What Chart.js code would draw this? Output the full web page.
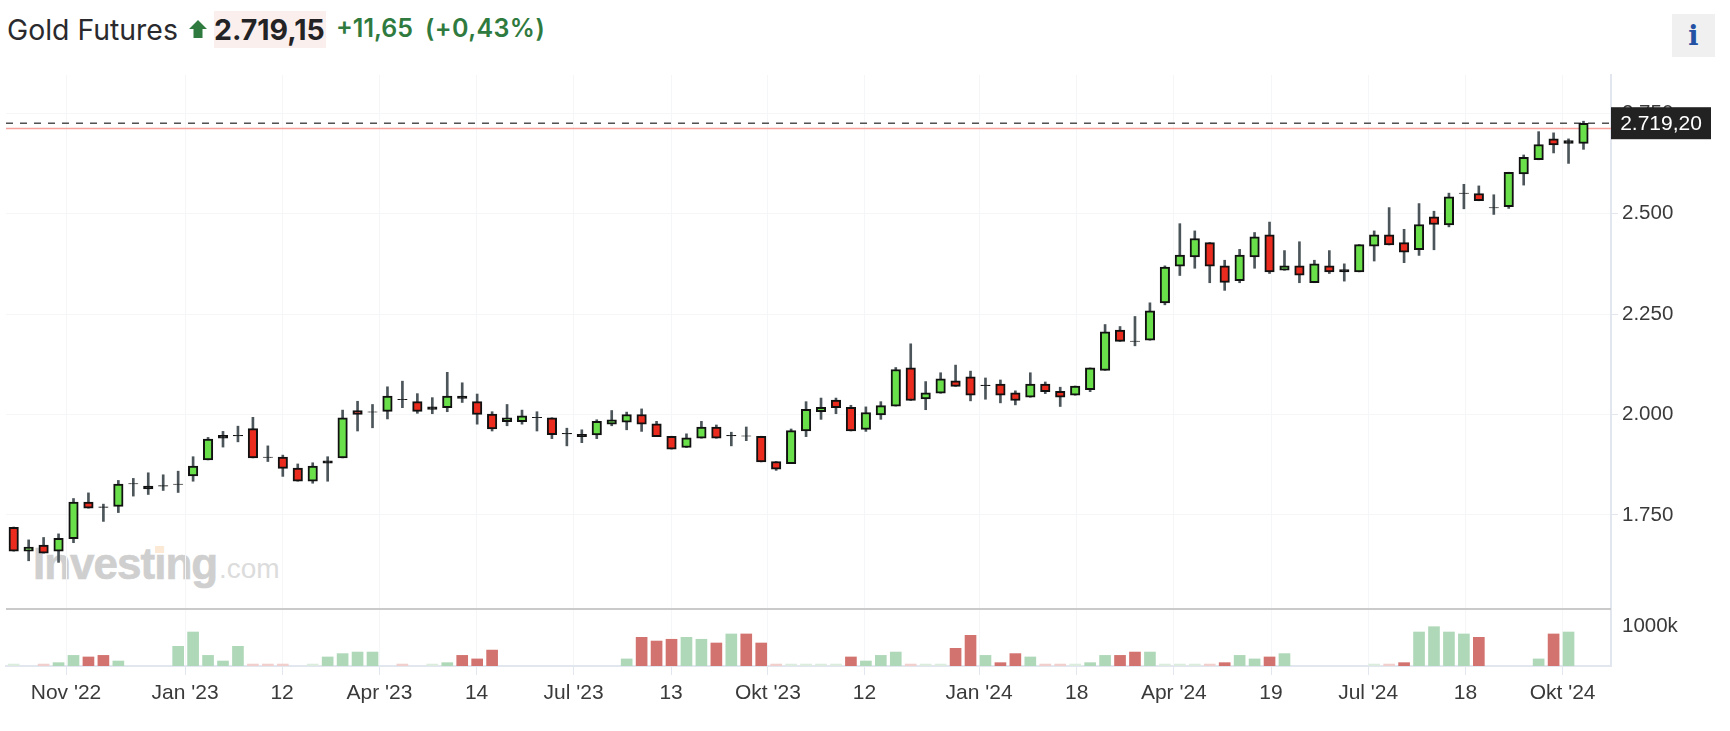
<!DOCTYPE html>
<html lang="de"><head><meta charset="utf-8"><title>Gold Futures</title>
<script src="https://cdn.jsdelivr.net/npm/chart.js@4"></script>
<style>
html,body{margin:0;padding:0;background:#fff;width:1730px;height:731px;overflow:hidden}
#wrap{position:relative;width:1730px;height:731px}
#wrap div,#wrap span{position:absolute;white-space:nowrap}
canvas{position:absolute;left:0;top:0}
.h{font-family:Inter,sans-serif}
</style></head><body>
<div id="wrap">
<div class="h" style="left:7px;top:12px;font-size:28.4px;line-height:36px;color:#2a2a2e">Gold Futures</div>
<div style="left:189px;top:20px;width:18px;height:18px;"><svg width="18" height="18" viewBox="0 0 18 18"><path d="M9 0L18 9H13.5V18H4.5V9H0Z" fill="#2f7a3e"/></svg></div>
<div style="left:213.5px;top:11px;width:112px;height:37px;background:#fbefee"></div>
<div class="h" style="left:214px;top:12px;font-size:28.5px;line-height:36px;font-weight:700;color:#232326">2.719,15</div>
<div class="h" style="left:336px;top:11px;font-size:25px;line-height:34px;font-weight:600;color:#2f7a3e">+11,65</div>
<div class="h" style="left:425px;top:11px;font-size:25px;line-height:34px;font-weight:600;color:#2f7a3e;letter-spacing:.4px">(+0,43%)</div>
<div style="left:1672px;top:14px;width:43px;height:43px;background:#f0f0f0"></div>
<div style="left:1672px;top:14px;width:43px;line-height:43px;text-align:center;font-family:'DejaVu Serif',serif;font-weight:700;font-size:27px;color:#2352a4">i</div>
<div style="left:33px;top:536px;font-family:'Liberation Sans',sans-serif;font-weight:700;font-size:44px;line-height:56px;letter-spacing:-1px;color:#cfcfcf;-webkit-text-stroke:.6px #cfcfcf">Investing</div>
<div style="left:219px;top:547px;font-family:'Liberation Sans',sans-serif;font-size:28px;line-height:44px;color:#dcdcdc">.com</div>
<div style="left:155px;top:546px;width:9px;height:7px;background:#fbe9d5"></div>
<canvas id="c" width="1730" height="731"></canvas>
</div>
<script>
const opens=[1719,1660,1675,1660,1691,1782,1770,1771,1828,1822,1823,1827,1847,1887,1948,1948,1965,1894,1894,1867,1834,1885,1892,2010,2007,2008,2038,2032,2019,2017,2046,2032,2001,1982,1982,1993,1992,1953,1951,1949,1976,1981,2000,1977,1946,1918,1941,1969,1948,1947,1946,1883,1878,1959,2007,2036,2018,1963,1999,2021,2116,2039,2053,2084,2094,2073,2076,2054,2043,2076,2058,2048,2062,2110,2210,2183,2185,2278,2369,2392,2428,2370,2333,2392,2447,2359,2370,2328,2370,2361,2355,2419,2447,2428,2410,2492,2472,2551,2550,2515,2517,2599,2634,2686,2682,2675];
const closes=[1660,1670,1655,1692,1782,1767,1769,1827,1827,1815,1822,1826,1872,1939,1941,1947,1892,1893,1866,1834,1872,1879,1992,2000,2006,2046,2037,2008,2013,2046,2040,2000,1964,1992,1997,1992,1950,1952,1945,1983,1987,2000,1976,1945,1914,1942,1969,1941,1947,1946,1882,1864,1960,2013,2018,2017,1959,2005,2022,2112,2035,2054,2089,2070,2048,2072,2048,2035,2076,2057,2043,2071,2116,2206,2182,2182,2258,2367,2397,2438,2369,2329,2397,2442,2355,2370,2347,2375,2355,2355,2423,2447,2422,2404,2473,2473,2542,2550,2532,2514,2603,2640,2672,2671,2675,2725];
const highs=[1720,1688,1694,1703,1791,1805,1777,1836,1841,1855,1850,1859,1895,1943,1958,1971,1993,1922,1899,1877,1880,1895,2011,2033,2025,2069,2083,2052,2042,2105,2079,2051,2007,2025,2011,2007,1992,1966,1962,1987,2010,2006,2014,1983,1946,1952,1983,1974,1956,1969,1946,1883,1964,2032,2041,2041,2023,2019,2032,2117,2176,2082,2104,2123,2108,2091,2086,2059,2104,2081,2068,2071,2116,2224,2219,2244,2278,2370,2475,2457,2428,2384,2411,2453,2479,2408,2430,2384,2408,2375,2423,2457,2515,2461,2525,2506,2551,2573,2569,2547,2603,2646,2704,2701,2686,2730];
const lows=[1660,1636,1655,1632,1681,1767,1734,1756,1797,1801,1811,1806,1834,1887,1919,1932,1892,1883,1846,1834,1829,1834,1892,1959,1967,1989,2017,2003,2002,2007,2030,1976,1959,1972,1976,1959,1940,1922,1930,1940,1972,1962,1958,1945,1914,1918,1941,1941,1922,1935,1882,1861,1878,1945,1988,2002,1959,1958,1988,2021,2035,2012,2053,2070,2034,2038,2029,2024,2043,2052,2020,2048,2057,2110,2182,2171,2185,2273,2346,2364,2328,2309,2328,2364,2351,2359,2328,2328,2351,2332,2355,2382,2422,2378,2396,2410,2467,2512,2532,2498,2513,2571,2634,2651,2625,2660];
const volumes=[50,0,50,85,270,230,270,127,0,0,0,500,865,270,127,500,50,50,50,0,50,230,315,355,355,0,50,0,50,85,270,180,405,0,0,0,0,0,0,0,0,180,730,635,680,730,680,585,815,815,585,50,50,50,50,50,230,127,270,355,50,50,50,450,780,270,85,315,230,50,50,50,85,270,270,355,355,50,50,50,50,85,270,180,230,315,0,0,0,0,0,50,50,85,865,1000,865,815,730,0,0,0,180,815,865,0];
const volumeSides="gnrggrrgnn"+"ngggggrrrn"+"gggggnrngg"+"rrrnnnnnnn"+"ngrrrggrgr"+"rrggggrggg"+"rggrrgrrgr"+"rgggrrgggg"+"rrggrgnnnn"+"ngrrggggrn"+"nngrgn";
const xTickIndex=[3.5,11.46,17.95,24.47,30.96,37.45,43.97,50.45,56.9,64.57,71.1,77.6,84.1,90.6,97.1,103.6];
const xTickLabels=["Nov '22","Jan '23","12","Apr '23","14","Jul '23","13","Okt '23","12","Jan '24","18","Apr '24","19","Jul '24","18","Okt '24"];
const priceTicks=[1750,2000,2250,2500,2750];
const volumeTicks=[1000];
const lastPriceLine=2725;
const prevCloseLine=2712;
const lastPriceLabel="2.719,20";

const GRID='#f5f6f7',AXIS='#e2e6ee',FONT='"Liberation Sans",Arial,sans-serif',XMIN=-0.515,XMAX=106.84;
const idx=opens.map((_,i)=>i);
const volColor=(v,s)=>s==='r'?(v<=60?'#f1cfcd':'#d3736f'):(v<=60?'#dcecdf':'#afd8b9');
const bodyColor=i=>Math.abs(closes[i]-opens[i])<8?'#141414':(closes[i]>=opens[i]?'#69e04a':'#ea2b1d');
const overlay={id:'overlay',afterDatasetsDraw(ch){
  const {ctx,chartArea:a,scales:{y}}=ch;
  ctx.save();
  ctx.fillStyle='#cacaca';ctx.fillRect(a.left,y.bottom-1,a.right-a.left,2);
  const py=y.getPixelForValue(lastPriceLine);
  ctx.fillStyle='#222';ctx.fillRect(a.right,py-16,100,32);
  ctx.fillStyle='#fff';ctx.font='21px '+FONT;ctx.textBaseline='middle';ctx.textAlign='center';
  ctx.fillText(lastPriceLabel,a.right+50,py+1);
  ctx.restore();
}};
new Chart(document.getElementById('c'),{
  data:{datasets:[
    {type:'line',order:6,data:[{x:XMIN,y:prevCloseLine},{x:XMAX,y:prevCloseLine}],borderColor:'#f7a29c',borderWidth:1.5,pointRadius:0,yAxisID:'y'},
    {type:'line',order:5,data:[{x:XMIN,y:lastPriceLine},{x:XMAX,y:lastPriceLine}],borderColor:'#444444',borderWidth:1.4,borderDash:[7,7],pointRadius:0,yAxisID:'y'},
    {type:'bar',order:3,grouped:false,data:idx.map(i=>({x:i,y:[lows[i],highs[i]]})),backgroundColor:'#4b555a',barThickness:2,borderWidth:0,yAxisID:'y'},
    {type:'bar',order:2,grouped:false,data:idx.map(i=>({x:i,y:[opens[i],closes[i]]})),backgroundColor:idx.map(bodyColor),borderColor:'#111111',borderWidth:2,borderSkipped:false,barThickness:9.5,yAxisID:'y'},
    {type:'bar',order:4,grouped:false,data:idx.filter(i=>volumes[i]>0).map(i=>({x:i,y:volumes[i]})),backgroundColor:idx.filter(i=>volumes[i]>0).map(i=>volColor(volumes[i],volumeSides[i])),barThickness:11,borderWidth:0,yAxisID:'v'}
  ]},
  options:{
    responsive:false,animation:false,
    layout:{padding:{top:75,left:6,right:0,bottom:0}},
    plugins:{legend:{display:false},tooltip:{enabled:false},title:{display:false}},
    scales:{
      x:{type:'linear',offset:false,min:XMIN,max:XMAX,position:'bottom',
        afterBuildTicks(s){s.ticks=xTickIndex.map(value=>({value}));},
        afterFit(s){s.height=65;},
        grid:{offset:false,color:GRID,tickColor:AXIS,tickLength:9,lineWidth:1,drawTicks:true},
        border:{color:AXIS,width:2},
        ticks:{autoSkip:false,maxRotation:0,minRotation:0,padding:6,color:'#3a3a3a',font:{family:FONT,size:21},callback:(v,i)=>xTickLabels[i]}},
      y:{type:'linear',position:'right',stack:'panes',stackWeight:534,min:1516,max:2845,
        afterBuildTicks(s){s.ticks=priceTicks.map(value=>({value}));},
        afterFit(s){s.width=119;},
        grid:{color:GRID,tickColor:AXIS,tickLength:7},
        border:{color:AXIS,width:2},
        ticks:{padding:4,color:'#3a3a3a',font:{family:FONT,size:20.5},callback:v=>v.toLocaleString('de-DE')}},
      v:{type:'linear',position:'right',stack:'panes',stackWeight:57,min:0,max:1450,
        afterBuildTicks(s){s.ticks=volumeTicks.map(value=>({value}));},
        afterFit(s){s.width=119;},
        grid:{display:false,color:GRID,tickColor:AXIS,tickLength:7},
        border:{color:AXIS,width:2},
        ticks:{padding:4,color:'#3a3a3a',font:{family:FONT,size:20.5},callback:v=>v+'k'}}
    }
  },
  plugins:[overlay]
});
</script>
</body></html>
